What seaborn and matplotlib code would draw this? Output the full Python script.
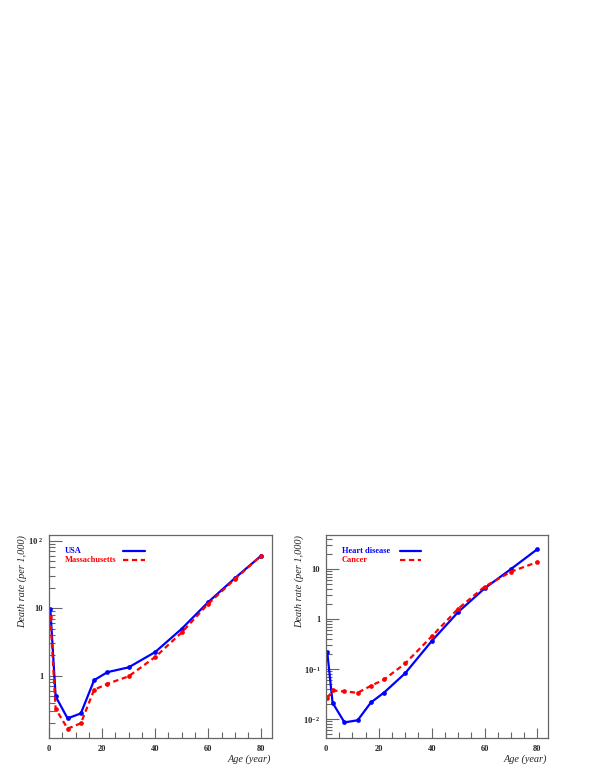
import numpy as np
import pandas as pd
import matplotlib
matplotlib.use('Agg')
import matplotlib.pyplot as plt
import seaborn as sns

# Données
ages = [0.5, 2.5, 7, 12, 17, 22, 30, 40, 50, 60, 70, 80]
usa = [9.7, 0.495, 0.234, 0.277, 0.86, 1.13, 1.33, 2.24, 4.95, 12.3, 27.7, 60]
massachusetts = [7.5, 0.325, 0.165, 0.198, 0.62, 0.76, 0.98, 1.89, 4.37, 11.6, 26.8, 60]
heart = [0.215, 0.0212, 0.0086, 0.0095, 0.0215, 0.034, 0.083, 0.363, 1.38, 4.1, 10, 25]
cancer = [0.0263, 0.0375, 0.0357, 0.0336, 0.0464, 0.062, 0.13, 0.45, 1.61, 4.43, 8.85, 13.8]

left_labels = ['USA', 'Massachusetts']
right_labels = ['Heart disease', 'Cancer']
x_ticks = [0, 20, 40, 60, 80]
left_yticks = [1, 10, 100]
left_ytlabels = ['1', '10', r'$10^{\ 2}$']
right_yticks = [0.01, 0.1, 1, 10]
right_ytlabels = [r'$10^{-2}$', r'$10^{-1}$', '1', '10']

sns.set_style('white')
plt.rcParams['font.family'] = ['Liberation Serif', 'DejaVu Serif']
plt.rcParams['mathtext.fontset'] = 'custom'
plt.rcParams['mathtext.rm'] = 'Liberation Serif:bold'
plt.rcParams['mathtext.it'] = 'Liberation Serif:bold'
plt.rcParams['mathtext.default'] = 'rm'

BLUE = '#0000ff'
RED = '#ff0000'
GRAY = '#666666'

fig = plt.figure(figsize=(5.99, 7.76), dpi=100)
ax1 = fig.add_axes([0.0818, 0.049, 0.3722, 0.2616])
ax2 = fig.add_axes([0.5442, 0.049, 0.3706, 0.2616])


def draw(ax, s1, s2, labels, ylim, yticks, ytlabels):
    df = pd.DataFrame({'age': ages * 2,
                       'rate': list(s1) + list(s2),
                       'serie': [labels[0]] * len(ages) + [labels[1]] * len(ages)})
    sns.lineplot(data=df[df.serie == labels[0]], x='age', y='rate', ax=ax,
                 color=BLUE, lw=1.6, marker='o', markersize=3.4,
                 markeredgewidth=0, legend=False)
    sns.lineplot(data=df[df.serie == labels[1]], x='age', y='rate', ax=ax,
                 color=RED, lw=1.6, marker='o', markersize=3.4,
                 markeredgewidth=0, legend=False)
    ax.lines[-1].set_dashes((2.4, 1.6))
    ax.set_yscale('log')
    ax.set_xlim(0, 84)
    ax.set_ylim(*ylim)
    ax.set_xticks(x_ticks)
    ax.set_xticklabels([str(t) for t in x_ticks], fontsize=6, fontweight='bold')
    ax.xaxis.set_minor_locator(matplotlib.ticker.MultipleLocator(5))
    ax.set_yticks(yticks)
    ax.set_yticklabels(ytlabels, fontsize=6.2, fontweight='bold')
    ax.yaxis.set_minor_locator(matplotlib.ticker.LogLocator(base=10, subs=np.arange(2, 10), numticks=30))
    ax.yaxis.set_minor_formatter(matplotlib.ticker.NullFormatter())
    ax.tick_params(axis='both', which='both', left=True, bottom=True,
                   top=False, right=False)
    ax.tick_params(axis='y', which='major', direction='in', length=9,
                   width=0.8, color=GRAY, pad=4)
    ax.tick_params(axis='y', which='minor', direction='in', length=4.5,
                   width=0.8, color=GRAY)
    ax.tick_params(axis='x', which='major', direction='in', length=7.5,
                   width=0.8, color=GRAY, pad=5)
    ax.tick_params(axis='x', which='minor', direction='in', length=4,
                   width=0.8, color=GRAY)
    for sp in ax.spines.values():
        sp.set_color(GRAY)
        sp.set_linewidth(0.9)
    ax.set_xlabel('Age (year)', fontsize=7.4, style='italic', loc='right')
    ax.set_ylabel('Death rate (per 1,000)', fontsize=7.4, style='italic', loc='top')
    ax.xaxis.set_label_coords(0.995, -0.079)
    ax.yaxis.set_label_coords(-0.10, 1.0)
    # légende façon ROOT
    ax.text(0.07, 0.921, labels[0], transform=ax.transAxes, color=BLUE,
            fontsize=6, fontweight='bold', va='center')
    ax.text(0.07, 0.877, labels[1], transform=ax.transAxes, color=RED,
            fontsize=6, fontweight='bold', va='center')
    ax.plot([0.332, 0.43], [0.921, 0.921], transform=ax.transAxes, color=BLUE, lw=1.6)
    ax.plot([0.332, 0.43], [0.877, 0.877], transform=ax.transAxes, color=RED,
            lw=1.6, dashes=(2.4, 1.6))


draw(ax1, usa, massachusetts, left_labels, (0.12, 121), left_yticks, left_ytlabels)
draw(ax2, heart, cancer, right_labels, (0.0042, 48), right_yticks, right_ytlabels)

fig.savefig('out.png', dpi=100, facecolor='white')
